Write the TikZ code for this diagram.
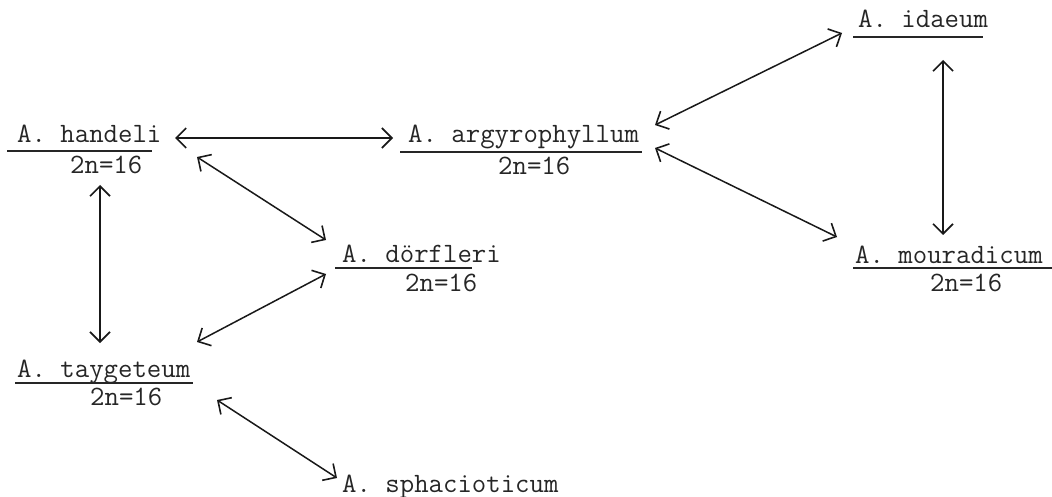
\documentclass[tikz,border=0pt]{standalone}
\usetikzlibrary{arrows.meta}
\begin{document}
\begin{tikzpicture}[x=1pt,y=-1pt,
  sp/.style={anchor=base west,inner sep=0pt,font=\ttfamily\fontsize{28pt}{32pt}\selectfont,text=black!85},
  chr/.style={anchor=base west,inner sep=0pt,font=\ttfamily\fontsize{28pt}{32pt}\selectfont,text=black!85},
  uline/.style={draw=black!85,line width=1.3pt},
  arr/.style={draw=black!90,line width=1.5pt,{Straight Barb[length=10pt,width=20pt,line width=1.6pt]}-{Straight Barb[length=10pt,width=20pt,line width=1.6pt]}}]
\useasboundingbox (0,0) rectangle (1052,497);
% species names
\node[sp] (handeli) at (17,143) {A. handeli};
\node[sp] (argy) at (408,143) {A. argyrophyllum};
\node[sp] (idaeum) at (858,28) {A. idaeum};
\node[sp] (doerf) at (342,262) {A. dörfleri};
\node[sp] (mour) at (855,263) {A. mouradicum};
\node[sp] (tayg) at (17,377) {A. taygeteum};
\node[sp] (sphac) at (342,492) {A. sphacioticum};
% chromosome numbers
\node[chr] (handeli2n) at (70,174) {2n=16};
\node[chr] (argy2n) at (498,175) {2n=16};
\node[chr] (doerf2n) at (405,291) {2n=16};
\node[chr] (mour2n) at (930,291) {2n=16};
\node[chr] (tayg2n) at (90,405) {2n=16};
% underlines
\draw[uline] ([shift={(-10,8)}]handeli.base west) -- ++(145,0);
\draw[uline] ([shift={(-8,9)}]argy.base west) -- ++(242,0);
\draw[uline] ([shift={(-5,9)}]idaeum.base west) -- ++(130,0);
\draw[uline] ([shift={(-7,6)}]doerf.base west) -- ++(137,0);
\draw[uline] ([shift={(-2,5)}]mour.base west) -- ++(199,0);
\draw[uline] ([shift={(-2,6)}]tayg.base west) -- ++(178,0);
% connectors
\draw[arr] ([shift={(158,-5)}]handeli.base west) -- ([shift={(-15,-5)}]argy.base west);
\draw[arr] ([shift={(247,-18)}]argy.base west) -- ([shift={(-16,5)}]idaeum.base west);
\draw[arr] ([shift={(247,5)}]argy.base west) -- ([shift={(-18,-26)}]mour.base west);
\draw[arr] ([shift={(85,32)}]idaeum.base west) -- ([shift={(88,-28)}]mour.base west);
\draw[arr] ([shift={(180,14)}]handeli.base west) -- ([shift={(-16,-22)}]doerf.base west);
\draw[arr] ([shift={(83,42)}]handeli.base west) -- ([shift={(83,-34)}]tayg.base west);
\draw[arr] ([shift={(180,-35)}]tayg.base west) -- ([shift={(-16,12)}]doerf.base west);
\draw[arr] ([shift={(200,23)}]tayg.base west) -- ([shift={(-5,-14)}]sphac.base west);
\end{tikzpicture}
\end{document}
